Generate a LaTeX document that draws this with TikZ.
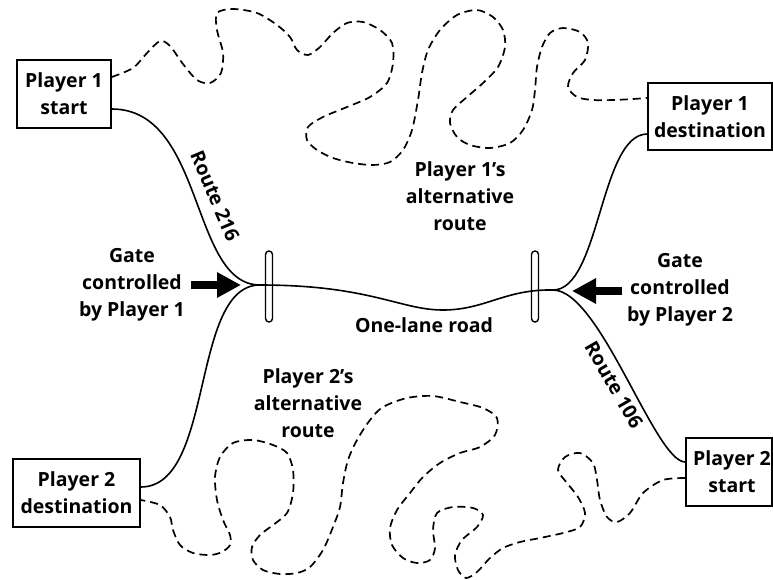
\documentclass[tikz,border=0pt]{standalone}
\usepackage{fontspec}
\setmainfont{Open Sans}
\usetikzlibrary{arrows.meta}
\begin{document}
\begin{tikzpicture}[x=1pt,y=-1pt,
  lbl/.style={font=\bfseries\fontsize{19.5}{27}\selectfont, align=center, inner sep=0pt},
  box/.style={draw, line width=1.5pt, inner sep=0pt, align=center, font=\bfseries\fontsize{19.5}{27}\selectfont},
  gate/.style={draw, line width=1.4pt, rounded corners=3.5pt, minimum width=7pt, minimum height=71pt, inner sep=0pt},
  road/.style={line width=1.6pt},
  altroute/.style={line width=1.7pt, dash pattern=on 8pt off 5pt},
  bigarrow/.style={line width=7.5pt, -{Triangle[length=24pt,width=24pt]}}]
\useasboundingbox (0,0) rectangle (773,579);

% boxes
\node[box, minimum width=94pt, minimum height=68pt] (p1s) at (64,94) {Player 1\\start};
\node[box, minimum width=124pt, minimum height=67pt] (p1d) at (710,116.5) {Player 1\\destination};
\node[box, minimum width=127pt, minimum height=68pt] (p2d) at (76.5,493) {Player 2\\destination};
\node[box, minimum width=86pt, minimum height=68pt] (p2s) at (729,472) {\hspace*{6pt}Player 2\\\hspace*{6pt}start};

% gates
\node[gate] (g1) at (269,286.5) {};
\node[gate] (g2) at (535,286.5) {};

% junctions
\coordinate (j1) at (260,285);
\coordinate (dip) at (443,310);
\coordinate (j2) at (553,290);

% roads
\draw[road] ([yshift=-15pt]p1s.east) .. controls (205,109) and (190,285) .. (j1);
\draw[road] ([yshift=6pt]p2d.east) .. controls (215,487) and (190,285) .. (j1);
\draw[road] (j1) .. controls (370,285) and (400,310) .. (dip)
                 .. controls (485,310) and (505,289) .. (j2);
\draw[road] (j2) .. controls (600,290) and (600,134) .. ([yshift=-17.5pt]p1d.west);
\draw[road] (j2) .. controls (600,290) and (655,462) .. ([yshift=10pt]p2s.west);

% alternative routes
\draw[altroute] plot[smooth] coordinates {([yshift=17pt]p1s.east)
 (133,68) (147,53) (160,41) (170,46) (183,64) (197,80) (210,83) (221,73) (223,53)
 (217,30) (217,13) (233,9) (257,13) (277,25) (290,37) (297,50) (308,55) (320,47)
 (333,33) (347,23) (363,22) (380,30) (392,43) (393,63) (387,83) (370,97) (347,107)
 (323,117) (308,127) (307,140) (317,150) (333,158) (353,163) (373,165) (390,162)
 (403,150) (412,130) (418,100) (422,73) (428,50) (440,30) (457,15) (477,10) (493,17)
 (503,30) (505,47) (498,67) (483,83) (467,97) (453,110) (450,123) (457,137) (470,145)
 (490,148) (510,143) (523,130) (532,110) (535,90) (537,67) (542,47) (550,33) (563,28)
 (580,32) (588,43) (585,60) (573,73) (568,87) (577,97) (593,100) (613,100) (633,99)
 ([yshift=18.5pt]p1d.west)};

\draw[altroute] plot[smooth] coordinates {([yshift=-6pt]p2s.west)
 (663,480) (643,493) (630,513) (617,522) (607,517) (600,500) (597,480) (593,463)
 (580,453) (565,457) (558,470) (567,483) (578,497) (585,513) (580,527) (563,533)
 (540,538) (520,542) (503,548) (490,558) (477,572) (466,578) (458,570) (455,555)
 (462,540) (477,527) (483,515) (473,508) (453,507) (437,513) (433,530) (435,548)
 (430,560) (417,563) (403,558) (392,545) (390,528) (397,510) (410,493) (423,477)
 (440,463) (460,453) (480,447) (495,435) (497,418) (483,408) (460,402) (433,396)
 (407,398) (383,407) (370,420) (357,440) (348,460) (343,483) (340,507) (333,527)
 (323,550) (310,567) (297,573) (280,574) (263,570) (253,560) (252,547) (260,535)
 (273,525) (287,513) (293,493) (293,470) (287,453) (273,445) (253,440) (233,443)
 (220,457) (215,477) (217,500) (223,520) (230,535) (230,545) (222,552) (210,555)
 (193,553) (180,545) (173,530) (170,517) (160,505) ([yshift=-7pt]p2d.east)};

% arrows
\coordinate (a1s) at (191,285);
\coordinate (a1t) at (241,285);
\coordinate (a2s) at (622,291);
\coordinate (a2t) at (572,291);
\draw[bigarrow] (a1s) -- (a1t);
\draw[bigarrow] (a2s) -- (a2t);

% labels
\node[lbl] (gl1) at (132,285) {Gate\\controlled\\by Player 1};
\node[lbl] (gl2) at (680,290) {Gate\\controlled\\by Player 2};
\node[lbl] (alt1) at (460,196) {Player 1’s\\alternative\\route};
\node[lbl] (alt2) at (308,403) {Player 2’s\\alternative\\route};
\node[lbl] (one) at (424,325) {One-lane road};
\node[lbl, rotate=-67] (r216) at (215,196) {Route 216};
\node[lbl, rotate=-60] (r106) at (614,385) {Route 106};
\end{tikzpicture}
\end{document}
